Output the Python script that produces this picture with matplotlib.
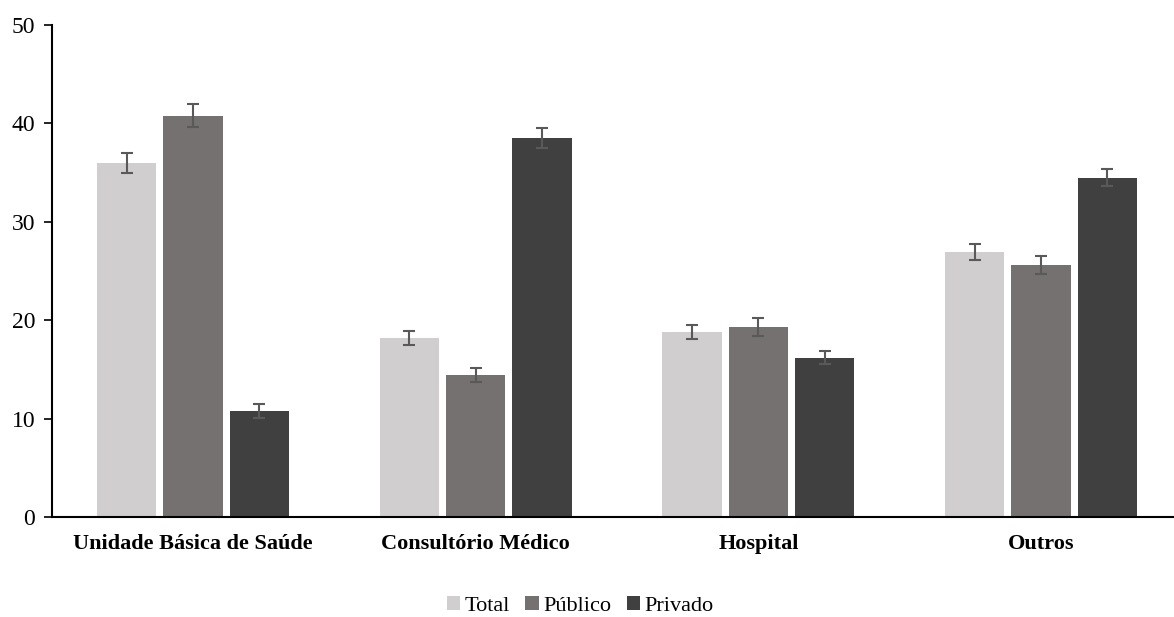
import numpy as np
from matplotlib import pyplot as plt

categories = ['Unidade Básica de Saúde', 'Consultório Médico', 'Hospital', 'Outros']
series = ['Total', 'Público', 'Privado']
total = [36.0, 18.2, 18.8, 26.9]
publico = [40.8, 14.4, 19.3, 25.6]
privado = [10.8, 38.5, 16.2, 34.5]
err_total = [1.0, 0.7, 0.7, 0.8]
err_publico = [1.2, 0.7, 0.9, 0.9]
err_privado = [0.7, 1.0, 0.7, 0.9]

colors = ['#d0cecf', '#757170', '#404040']

plt.rcParams['font.family'] = ['Liberation Serif', 'DejaVu Serif']

fig = plt.figure(figsize=(11.74, 6.17), dpi=100)
ax = fig.add_axes([52/1174, 1-517/617, 1121/1174, 492/617])

x = np.arange(len(categories))
w = 0.21
step = 0.235
vals = [total, publico, privado]
errs = [err_total, err_publico, err_privado]
for i, (name, v, e) in enumerate(zip(series, vals, errs)):
	ax.bar(x + (i-1)*step, v, w, color=colors[i], label=name,
		yerr=e, error_kw=dict(ecolor='#595959', elinewidth=1.5, capsize=4, capthick=1.5))

ax.set_xlim(-0.499, 3.467)
ax.set_ylim(0, 50)
ax.set_yticks([0, 10, 20, 30, 40, 50])
ax.tick_params(axis='y', labelsize=17, length=6, width=1.2, direction='out', pad=6)
ax.tick_params(axis='x', length=0, pad=12)
ax.set_xticks(x)
ax.set_xticklabels(categories, fontsize=16, fontweight='bold')
for s in ['top', 'right']:
	ax.spines[s].set_visible(False)
ax.spines['left'].set_linewidth(1.5)
ax.spines['bottom'].set_linewidth(1.5)

fig.legend(loc='center', bbox_to_anchor=(580/1174, 1-606/617), ncol=3, frameon=False,
	fontsize=16, handlelength=0.6, handleheight=0.6, handletextpad=0.2, columnspacing=0.7)

fig.savefig('out.png', dpi=100)
